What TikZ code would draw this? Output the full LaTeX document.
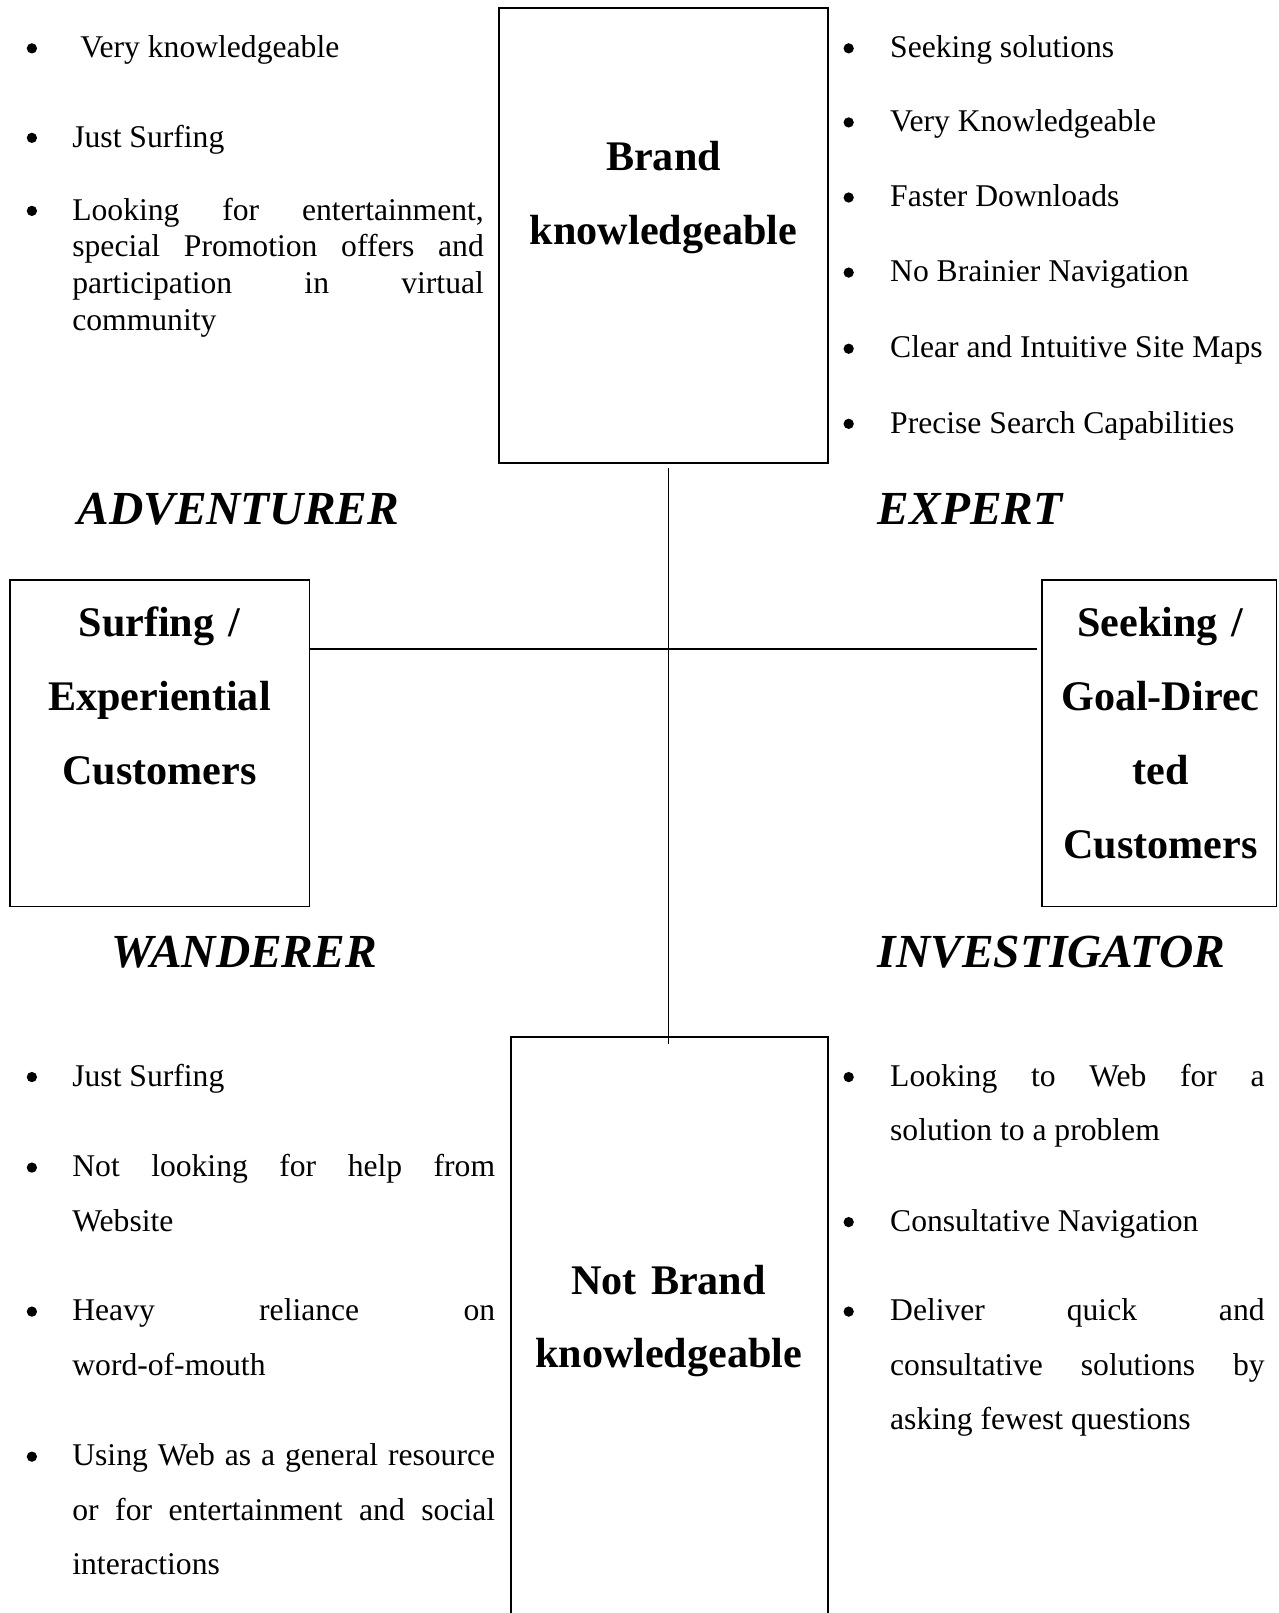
\documentclass[tikz,border=0pt]{standalone}
\usepackage{fontspec}
\setmainfont{Liberation Serif}
\usetikzlibrary{positioning}
\newlength\pxu
\setlength\pxu{0.5855pt}
\tolerance=10000
\hyphenpenalty=10000
\exhyphenpenalty=10000

\begin{document}
\begin{tikzpicture}[x=\pxu,y=-\pxu,
  box/.style={rectangle,draw,line width=0.9pt,outer sep=0pt,inner sep=0pt},
  head/.style={font=\fontsize{24}{42}\selectfont\bfseries,align=center,
    text width=290\pxu,anchor=base,inner sep=0pt},
  quad/.style={font=\fontsize{27}{32}\selectfont\bfseries\itshape,anchor=west,inner sep=0pt},
  item/.style={font=\fontsize{18}{31}\selectfont,anchor=base west,inner sep=0pt},
  dot/.style={circle,fill,inner sep=0pt,minimum size=10\pxu},
  link/.style={line width=0.9pt}
]
\useasboundingbox (0,0) rectangle (1243,1568);
\clip (0,0) rectangle (1243,1568);

\node[box,minimum width=320\pxu,minimum height=442\pxu] (brand) at (645,229) {};
\node[box,minimum width=291\pxu,minimum height=317\pxu] (surf) at (155.5,722.5) {};
\node[box,minimum width=228\pxu,minimum height=317\pxu] (seek) at (1127,722.5) {};
\node[box,minimum width=308\pxu,minimum height=600\pxu] (nobrand) at (651,1308) {};

\node[head] (brandtxt) at (645,166) {Brand\\knowledgeable};
\node[head] (surftxt) at (155,619) {Surfing /\\Experiential\\Customers};
\node[head,text width=220\pxu] (seektxt) at (1128,619) {Seeking /\\Goal-Direc\\ted\\Customers};
\node[head] (nobrandtxt) at (650,1258) {Not Brand\\knowledgeable};

\coordinate (hub) at (650,631);
\draw[link,shorten <=5\pxu,shorten >=-7\pxu] (hub |- brand.south) -- (hub |- nobrand.north);
\draw[link,shorten >=5\pxu] (hub -| surf.east) -- (hub -| seek.west);

\node[quad] (adv) at (75,495) {ADVENTURER};
\node[quad] (exp) at (853,495) {EXPERT};
\node[quad] (wan) at (108,926) {WANDERER};
\node[quad] (inv) at (853,926) {INVESTIGATOR};

\node[item] (tl1) at (70,56) {\ Very knowledgeable};
\node[item] (tl2) at (70,143) {Just Surfing};
\node[item,font=\fontsize{18}{20.9}\selectfont] (tl3) at (70,214)
  {\parbox[t]{400\pxu}{Looking for entertainment,\linebreak special Promotion offers and\linebreak participation in virtual\linebreak community}};

\node[item] (tr1) at (865,56) {Seeking solutions};
\node[item] (tr2) at (865,128) {Very Knowledgeable};
\node[item] (tr3) at (865,201) {Faster Downloads};
\node[item] (tr4) at (865,274) {No Brainier Navigation};
\node[item] (tr5) at (865,348) {Clear and Intuitive Site Maps};
\node[item] (tr6) at (865,421) {Precise Search Capabilities};

\node[item] (bl1) at (70,1056) {Just Surfing};
\node[item] (bl2) at (70,1144) {\parbox[t]{411\pxu}{Not looking for help from\linebreak Website}};
\node[item] (bl3) at (70,1284) {\parbox[t]{411\pxu}{Heavy reliance on\linebreak word-of-mouth}};
\node[item] (bl4) at (70,1425)
  {\parbox[t]{411\pxu}{Using Web as a general resource\linebreak or for entertainment and social\linebreak interactions}};

\node[item] (br1) at (865,1056) {\parbox[t]{364\pxu}{Looking to Web for a\linebreak solution to a problem}};
\node[item] (br2) at (865,1197) {Consultative Navigation};
\node[item] (br3) at (865,1284)
  {\parbox[t]{364\pxu}{Deliver quick and\linebreak consultative solutions by\linebreak asking fewest questions}};

\foreach \n in {tl2,tl3,bl1,bl2,bl3,bl4}
  \node[dot] (\n-dot) at ([shift={(-39,-9)}]\n.base west) {};
\node[dot] (tl1-dot) at ([shift={(-39,-9)}]tl2.base west |- tl1.base) {};
\foreach \n in {tr1,tr2,tr3,tr4,tr5,tr6,br1,br2,br3}
  \node[dot] (\n-dot) at ([shift={(-40,-9)}]\n.base west) {};
\end{tikzpicture}
\end{document}
